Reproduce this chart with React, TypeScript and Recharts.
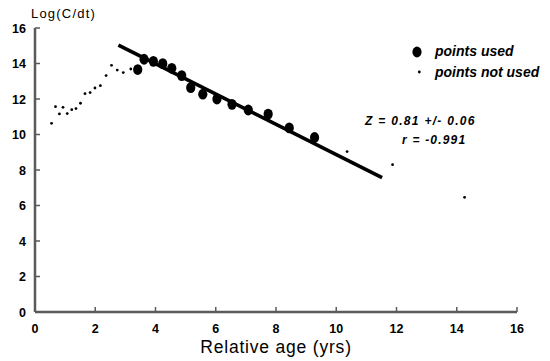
import React from 'react';
import { ScatterChart, Scatter, XAxis, YAxis, ReferenceLine } from 'recharts';

// points used in the fit
const usedAge = [3.41, 3.62, 3.93, 4.24, 4.54, 4.87, 5.17, 5.57, 6.04, 6.54, 7.08, 7.74, 8.44, 9.28];
const usedLog = [13.66, 14.24, 14.12, 13.99, 13.73, 13.32, 12.64, 12.27, 12.0, 11.7, 11.38, 11.15, 10.37, 9.83];

// points not used
const notUsedAge = [0.55, 0.68, 0.81, 0.93, 1.07, 1.22, 1.36, 1.51, 1.66, 1.83, 1.99, 2.17, 2.36, 2.54, 2.73, 2.93, 3.18, 10.36, 11.87, 14.26];
const notUsedLog = [10.63, 11.57, 11.16, 11.53, 11.18, 11.4, 11.46, 11.76, 12.3, 12.36, 12.62, 12.75, 13.32, 13.9, 13.63, 13.49, 13.69, 9.04, 8.3, 6.46];

// fitted line end points
const fitAge = [2.77, 11.52];
const fitLog = [15.03, 7.57];

const ticks = [0, 2, 4, 6, 8, 10, 12, 14, 16];

const used = usedAge.map((x, i) => ({ x, y: usedLog[i] }));
const notUsed = notUsedAge.map((x, i) => ({ x, y: notUsedLog[i] }));

const FONT = '"Liberation Sans", Arial, sans-serif';
const AXIS = '#5a5a5a';

const BigDot = (props: any) => <ellipse cx={props.cx} cy={props.cy} rx={4.6} ry={5.4} fill="#000" />;
const SmallDot = (props: any) => <circle cx={props.cx} cy={props.cy} r={1.4} fill="#000" />;

const YTick = (props: any) => {
  const { x, y, payload } = props;
  return (
    <g>
      <line x1={x} x2={x + 5} y1={y} y2={y} stroke={AXIS} strokeWidth={1.5} />
      <text x={x - 9} y={y} dy={4.5} textAnchor="end" fontSize={12.5} fontWeight="bold" fontFamily={FONT} fill="#000">
        {payload.value}
      </text>
    </g>
  );
};

const XTick = (props: any) => {
  const { x, y, payload } = props;
  return (
    <g>
      <line x1={x} x2={x} y1={y} y2={y - 5} stroke={AXIS} strokeWidth={1.5} />
      <text x={x} y={y + 21} textAnchor="middle" fontSize={12.5} fontWeight="bold" fontFamily={FONT} fill="#000">
        {payload.value}
      </text>
    </g>
  );
};

const legendText: React.CSSProperties = {
  position: 'absolute',
  fontFamily: FONT,
  fontWeight: 'bold',
  fontStyle: 'italic',
  fontSize: 14,
  color: '#000',
  whiteSpace: 'nowrap',
  lineHeight: '16px',
};

export default function App() {
  return (
    <div style={{ position: 'absolute', left: 0, top: 0, width: 550, height: 361, background: '#fff' }}>
      <ScatterChart width={550} height={361} margin={{ top: 28, right: 33, bottom: 0, left: 0 }}>
        <XAxis
          type="number"
          dataKey="x"
          domain={[0, 16]}
          ticks={ticks}
          height={49}
          stroke={AXIS}
          strokeWidth={2.5}
          tickLine={false}
          tickSize={0}
          tickMargin={0}
          tick={<XTick />}
          label={{ value: 'Relative age (yrs)', position: 'insideBottom', offset: 8, fontSize: 17.5, letterSpacing: 0.8, fontFamily: FONT, fill: '#000' }}
        />
        <YAxis
          type="number"
          dataKey="y"
          domain={[0, 16]}
          ticks={ticks}
          width={35}
          stroke={AXIS}
          strokeWidth={2.5}
          tickLine={false}
          tickSize={0}
          tickMargin={0}
          tick={<YTick />}
        />
        <ReferenceLine
          segment={[
            { x: fitAge[0], y: fitLog[0] },
            { x: fitAge[1], y: fitLog[1] },
          ]}
          stroke="#000"
          strokeWidth={3.6}
        />
        <Scatter data={notUsed} shape={<SmallDot />} isAnimationActive={false} />
        <Scatter data={used} shape={<BigDot />} isAnimationActive={false} />
      </ScatterChart>

      <div style={{ position: 'absolute', left: 31, top: 6, fontFamily: FONT, fontSize: 13, letterSpacing: 1.2, color: '#000', whiteSpace: 'nowrap' }}>
        Log(C/dt)
      </div>

      <svg style={{ position: 'absolute', left: 410, top: 45 }} width={14} height={34}>
        <ellipse cx={7} cy={7} rx={4.6} ry={5.4} fill="#000" />
        <circle cx={9.3} cy={27} r={1.4} fill="#000" />
      </svg>
      <div style={{ ...legendText, left: 435, top: 43 }}>points used</div>
      <div style={{ ...legendText, left: 435, top: 64 }}>points not used</div>

      <div style={{ ...legendText, fontSize: 12, lineHeight: '14px', left: 365, top: 114, letterSpacing: 1.3 }}>Z = 0.81 +/- 0.06</div>
      <div style={{ ...legendText, fontSize: 12, lineHeight: '14px', left: 402, top: 133, letterSpacing: 1.2 }}>r = -0.991</div>
    </div>
  );
}
